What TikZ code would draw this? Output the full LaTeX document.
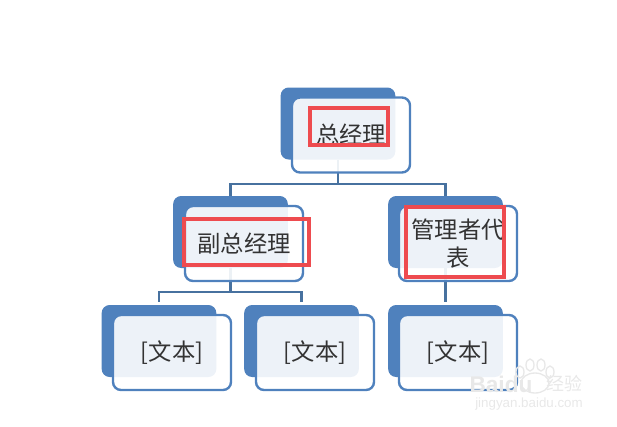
\documentclass[tikz,border=0pt]{standalone}
\usepackage{fontspec}
\setmainfont{Liberation Sans}
\newfontfamily\cjk{Noto Sans CJK SC}
\definecolor{boxblue}{HTML}{4F81BD}
\definecolor{linkblue}{HTML}{47719F}
\definecolor{markred}{HTML}{EE4B4F}
\definecolor{wmark}{HTML}{E8E8E8}
\tikzset{
  back/.style={fill=boxblue,rounded corners=6pt,minimum width=86pt,minimum height=54pt,inner sep=0pt,outer sep=0pt},
  front/.style={draw=boxblue,line width=1.8pt,fill=white,fill opacity=.9,draw opacity=1,text opacity=1,rounded corners=6pt,minimum width=88.5pt,minimum height=56.25pt,inner sep=0pt,outer sep=0pt,align=center,font=\cjk\fontsize{17.5pt}{21pt}\selectfont,text=black!80},
  link/.style={draw=linkblue,line width=1.8pt},
  redmark/.style={draw=markred,line width=2.7pt,inner sep=0pt},
  paw/.style={draw=wmark,line width=1pt}
}
\begin{document}
\begin{tikzpicture}[x=0.75pt,y=-0.75pt]
\useasboundingbox (0,0) rectangle (617,426);
% back panels
\node[back] (b1) at (338,123.5) {};
\node[back] (b2) at (230.5,232) {};
\node[back] (b3) at (445.5,232) {};
\node[back] (b4) at (159,341) {};
\node[back] (b5) at (301.5,341) {};
\node[back] (b6) at (445.5,341) {};
% junctions
\coordinate (j1) at (338,184);
\coordinate (j2) at (230.5,292);
% connectors
\draw[link] (b1.south) -- (j1);
\draw[link] (j1) -| (b2.north);
\draw[link] (j1) -| (b3.north);
\draw[link] (b2.south) -- (j2);
\draw[link,shorten >=2pt] (j2) -| (b4.north);
\draw[link,shorten >=2pt] (j2) -| (b5.north);
\draw[link,shorten >=2pt] (b3.south) -- (b6.north);
% front panels
\node[front] (f1) at (351,135) {\raisebox{1.5pt}{总经理}};
\node[front] (f2) at (244,243.5) {副总经理};
\node[front] (f3) at (458,243.5) {管理者代\\表};
\node[front] (f4) at (172,352.5) {[文本]};
\node[front] (f5) at (315,352.5) {[文本]};
\node[front] (f6) at (458,352.5) {[文本]};
% red marks
\node[redmark,minimum width=58.5pt,minimum height=27.5pt] (r1) at (349,126.5) {};
\node[redmark,minimum width=93.5pt,minimum height=34.5pt] (r2) at (246.5,242) {};
\node[redmark,minimum width=73.5pt,minimum height=52.5pt] (r3) at (455,242) {};
% watermark
\draw[paw] (520,372) circle [x radius=4,y radius=6];
\draw[paw] (530,365) circle [x radius=4,y radius=6];
\draw[paw] (541,365) circle [x radius=4,y radius=6];
\draw[paw] (550,372) circle [x radius=4,y radius=6];
\draw[paw] (535,383) circle [x radius=14,y radius=10];
\node[text=wmark,font=\bfseries\fontsize{17pt}{17pt}\selectfont,inner sep=0pt] (w1) at (501,384) {Baidu};
\node[text=wmark,font=\cjk\fontsize{13.5pt}{14pt}\selectfont,inner sep=0pt] (w2) at (564,384) {经验};
\node[text=wmark,font=\fontsize{10pt}{10pt}\selectfont,inner sep=0pt] (w3) at (529,404) {jingyan.baidu.com};
\end{tikzpicture}
\end{document}
